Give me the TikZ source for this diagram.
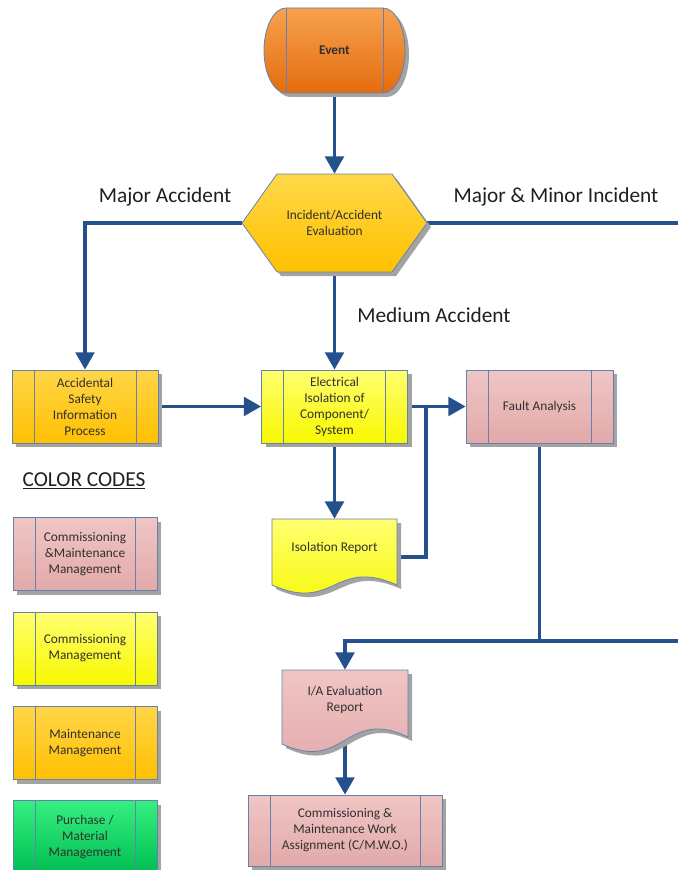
\documentclass[tikz,border=0pt]{standalone}
\usepackage{fontspec}
\setmainfont{Carlito}
\usetikzlibrary{arrows.meta,shadows,backgrounds,calc}

\definecolor{linkblue}{HTML}{24508C}
\definecolor{edgecol}{HTML}{6482B0}
\definecolor{txt}{HTML}{303030}
\definecolor{evtop}{HTML}{F7A250}
\definecolor{evbot}{HTML}{E46C0E}
\definecolor{hxtop}{HTML}{FFD848}
\definecolor{hxbot}{HTML}{FFC000}
\definecolor{amtop}{HTML}{FFD548}
\definecolor{ambot}{HTML}{FFC000}
\definecolor{yetop}{HTML}{FFFF70}
\definecolor{yebot}{HTML}{F8F800}
\definecolor{pktop}{HTML}{F0C6C5}
\definecolor{pkbot}{HTML}{E2A9A9}
\definecolor{grtop}{HTML}{35F080}
\definecolor{grbot}{HTML}{00BE52}

\tikzset{
  boxshadow/.style={drop shadow={shadow xshift=3pt, shadow yshift=-3pt, fill=black!36, opacity=1}},
  outline/.style={draw=edgecol, line width=0.6pt},
  proc/.style={outline, rectangle, inner sep=1pt, align=center,
    font=\fontsize{10}{12}\selectfont, text=txt, boxshadow,
    minimum height=54.75pt,
    path picture={\draw[edgecol, line width=0.6pt]
      ([xshift=16.5pt]path picture bounding box.north west) -- ([xshift=16.5pt]path picture bounding box.south west)
      ([xshift=-16.5pt]path picture bounding box.north east) -- ([xshift=-16.5pt]path picture bounding box.south east);}},
  amber/.style={top color=amtop, bottom color=ambot},
  lemon/.style={top color=yetop, bottom color=yebot},
  rose/.style={top color=pktop, bottom color=pkbot},
  mint/.style={top color=grtop, bottom color=grbot},
  textonly/.style={inner sep=0pt, align=center, font=\fontsize{10}{12}\selectfont, text=txt},
  conn/.style={draw=linkblue, line width=2.6pt},
  arr/.style={conn, -{Triangle[width=14pt,length=13pt]}},
  lbl/.style={font=\fontsize{16}{19}\selectfont, text=black!88},
}

\begin{document}
\begin{tikzpicture}[x=0.75pt, y=-0.75pt]
\useasboundingbox (0,0) rectangle (678,870);

% start terminal
\path[outline, top color=evtop, bottom color=evbot, boxshadow]
  (286,8) -- (383,8) arc[start angle=-90, end angle=90, x radius=22, y radius=42.5]
  -- (286,93) arc[start angle=90, end angle=270, x radius=22, y radius=42.5] -- cycle;
\draw[outline] (286,8) -- (286,93) (383,8) -- (383,93);
\node[textonly, font=\bfseries\fontsize{10}{12}\selectfont, minimum width=105.75pt, minimum height=63.75pt] (event) at (334.5,50.5) {Event};

% evaluation hexagon
\path[outline, top color=hxtop, bottom color=hxbot, boxshadow]
  (277,174) -- (392,174) -- (427,223) -- (392,272) -- (277,272) -- (242,223) -- cycle;
\node[textonly, minimum width=138.75pt, minimum height=73.5pt] (eval) at (334.5,223) {Incident/Accident\\Evaluation};

% process boxes
\node[proc, amber, minimum width=109.5pt] (asip) at (85,406.5) {Accidental\\Safety\\Information\\Process};
\node[proc, lemon, minimum width=109.5pt] (elec) at (334.5,406.5) {Electrical\\Isolation of\\Component/\\System};
\node[proc, rose, minimum width=110.25pt] (fault) at (539.5,406.5) {Fault Analysis};

% isolation report document
\path[outline, lemon, boxshadow]
  (272,519) -- (397,519) -- (397,585) .. controls (334.5,557) and (334.5,613) .. (272,585) -- cycle;
\node[textonly, minimum width=93.75pt, minimum height=43.5pt] (iso) at (334.5,548) {Isolation Report};

% incident/accident evaluation report document
\path[outline, rose, boxshadow]
  (282,670) -- (408,670) -- (408,737) .. controls (345,707) and (345,773) .. (282,744) -- cycle;
\node[textonly, minimum width=94.5pt, minimum height=45pt] (ia) at (345,700) {I/A Evaluation\\Report};

% work assignment
\node[proc, rose, minimum width=145.5pt, minimum height=53.25pt] (cmwo) at (345,830.5) {Commissioning \&\\Maintenance Work\\Assignment (C/M.W.O.)};

% branch labels
\node[lbl] (lmajor) at (165,197) {Major Accident};
\node[lbl] (lminor) at (556,197) {Major \& Minor Incident};
\node[lbl] (lmedium) at (434,315) {Medium Accident};

% colour legend
\node[lbl] (codes) at (84,481) {\underline{COLOR CODES}};
\node[proc, rose, minimum width=108pt] (keycm) at (85,554) {Commissioning\\\&Maintenance\\Management};
\node[proc, lemon, minimum width=108pt] (keyc) at (85,648.5) {Commissioning\\Management};
\node[proc, amber, minimum width=108pt] (keym) at (85,743) {Maintenance\\Management};
\node[proc, mint, minimum width=108pt] (keyp) at (85,837) {Purchase /\\Material\\Management};

% connectors
\coordinate (outA) at (678,223);
\coordinate (jn) at (426,406.5);
\coordinate (hl) at (345,641);
\coordinate (outB) at (678,641);
\begin{scope}[on background layer]
  \draw[arr] (event.south) -- (eval.north);
  \draw[arr] (eval.west) -| (asip.north);
  \draw[conn] (eval.east) -- (outA);
  \draw[arr] (eval.south) -- (elec.north);
  \draw[arr] (asip.east) -- (elec.west);
  \draw[arr] (elec.east) -- (fault.west);
  \draw[conn] (jn) |- ($(iso.east)+(0,9)$);
  \draw[arr] (elec.south) -- (iso.north);
  \draw[conn] (fault.south) -- (fault.south |- hl);
  \draw[arr] (outB) -- (hl) -- (ia.north);
  \draw[arr] (ia.south) -- (cmwo.north);
\end{scope}
\end{tikzpicture}
\end{document}
